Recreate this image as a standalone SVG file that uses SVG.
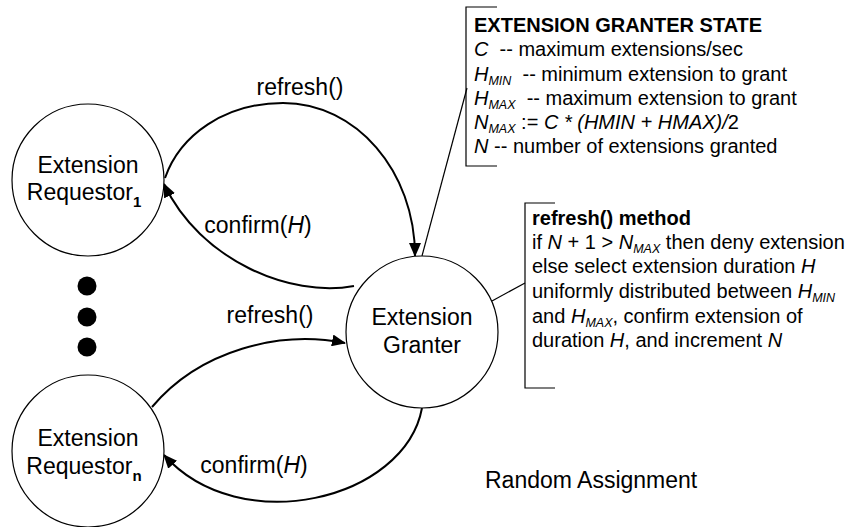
<svg xmlns="http://www.w3.org/2000/svg" width="851" height="527" viewBox="0 0 851 527">
<style>
text{font-family:"Liberation Sans",Arial,sans-serif;fill:#000}
.node{fill:#fff;stroke:#000;stroke-width:1.2}
.lbl{font-size:23px}
.box{font-size:20px}
.sub{font-size:12.5px;font-style:italic}
.it{font-style:italic}
.b{font-weight:bold}
.conn{fill:none;stroke:#000;stroke-width:2}
.lead{fill:none;stroke:#000;stroke-width:1.2}
</style>
<defs>
<marker id="arr" markerUnits="userSpaceOnUse" markerWidth="14" markerHeight="12" refX="13" refY="6" orient="auto">
<path d="M0,0 L14,6 L0,12 Z" fill="#000"/>
</marker>
</defs>
<rect width="851" height="527" fill="#fff"/>
<g id="connectors">
<path class="conn" d="M165,178 C180,135 225,103 283,103 C356,103 415,171 415,256" marker-end="url(#arr)"/>
<path class="conn" d="M354,286 C290,298 200,260 164,184" marker-end="url(#arr)"/>
<path class="conn" d="M152,407 C200,350 280,330 345,343" marker-end="url(#arr)"/>
<path class="conn" d="M422,408 C405,500 240,540 164,455" marker-end="url(#arr)"/>
<path class="lead" d="M467,88 L422,256"/>
<path class="lead" d="M525,283 L492,301"/>
</g>
<g id="requestor1">
<circle class="node" cx="88" cy="180" r="76"/>
<text class="lbl" x="88" y="173" text-anchor="middle">Extension</text>
<text class="lbl" x="84" y="200" text-anchor="middle">Requestor<tspan class="b" font-size="15" dy="7">1</tspan></text>
</g>
<g id="dots">
<circle cx="87" cy="286" r="9.5"/>
<circle cx="87" cy="317" r="9.5"/>
<circle cx="87" cy="347" r="9.5"/>
</g>
<g id="requestorn">
<circle class="node" cx="88" cy="451" r="76"/>
<text class="lbl" x="88" y="446" text-anchor="middle">Extension</text>
<text class="lbl" x="84" y="474" text-anchor="middle">Requestor<tspan class="b" font-size="15" dy="7">n</tspan></text>
</g>
<g id="granter">
<circle class="node" cx="422" cy="332" r="76"/>
<text class="lbl" x="422" y="325" text-anchor="middle">Extension</text>
<text class="lbl" x="422" y="353" text-anchor="middle">Granter</text>
</g>
<g id="edge-labels">
<text class="lbl" x="300" y="95" text-anchor="middle">refresh()</text>
<text class="lbl" x="258" y="233" text-anchor="middle">confirm(<tspan class="it">H</tspan>)</text>
<text class="lbl" x="270" y="323" text-anchor="middle">refresh()</text>
<text class="lbl" x="254" y="473" text-anchor="middle">confirm(<tspan class="it">H</tspan>)</text>
</g>
<g id="state-box">
<path class="lead" d="M497,7 H466 V166 H497"/>
<text class="box b" x="474" y="32">EXTENSION GRANTER STATE</text>
<text class="box" x="474" y="56" xml:space="preserve"><tspan class="it">C</tspan>  -- maximum extensions/sec</text>
<text class="box" x="474" y="81" xml:space="preserve"><tspan class="it">H</tspan><tspan class="sub" dy="4">MIN</tspan><tspan dy="-4">  -- minimum extension to grant</tspan></text>
<text class="box" x="474" y="105" xml:space="preserve"><tspan class="it">H</tspan><tspan class="sub" dy="4">MAX</tspan><tspan dy="-4">  -- maximum extension to grant</tspan></text>
<text class="box" x="474" y="129" xml:space="preserve"><tspan class="it">N</tspan><tspan class="sub" dy="4">MAX</tspan><tspan dy="-4"> := </tspan><tspan class="it">C * (HMIN + HMAX)/</tspan>2</text>
<text class="box" x="474" y="153"><tspan class="it">N</tspan> -- number of extensions granted</text>
</g>
<g id="refresh-box">
<path class="lead" d="M555,203 H525 V388 H555"/>
<text class="box b" x="532" y="225">refresh() method</text>
<text class="box" x="532" y="249" xml:space="preserve">if <tspan class="it">N</tspan> + 1 &gt; <tspan class="it">N</tspan><tspan class="sub" dy="4">MAX</tspan><tspan dy="-4"> then deny extension</tspan></text>
<text class="box" x="532" y="273">else select extension duration <tspan class="it">H</tspan></text>
<text class="box" x="532" y="298" xml:space="preserve">uniformly distributed between <tspan class="it">H</tspan><tspan class="sub" dy="4">MIN</tspan></text>
<text class="box" x="532" y="323" xml:space="preserve">and <tspan class="it">H</tspan><tspan class="sub" dy="4">MAX</tspan><tspan dy="-4">, confirm extension of</tspan></text>
<text class="box" x="532" y="347">duration <tspan class="it">H</tspan>, and increment <tspan class="it">N</tspan></text>
</g>
<text class="lbl" x="485" y="488">Random Assignment</text>
</svg>
